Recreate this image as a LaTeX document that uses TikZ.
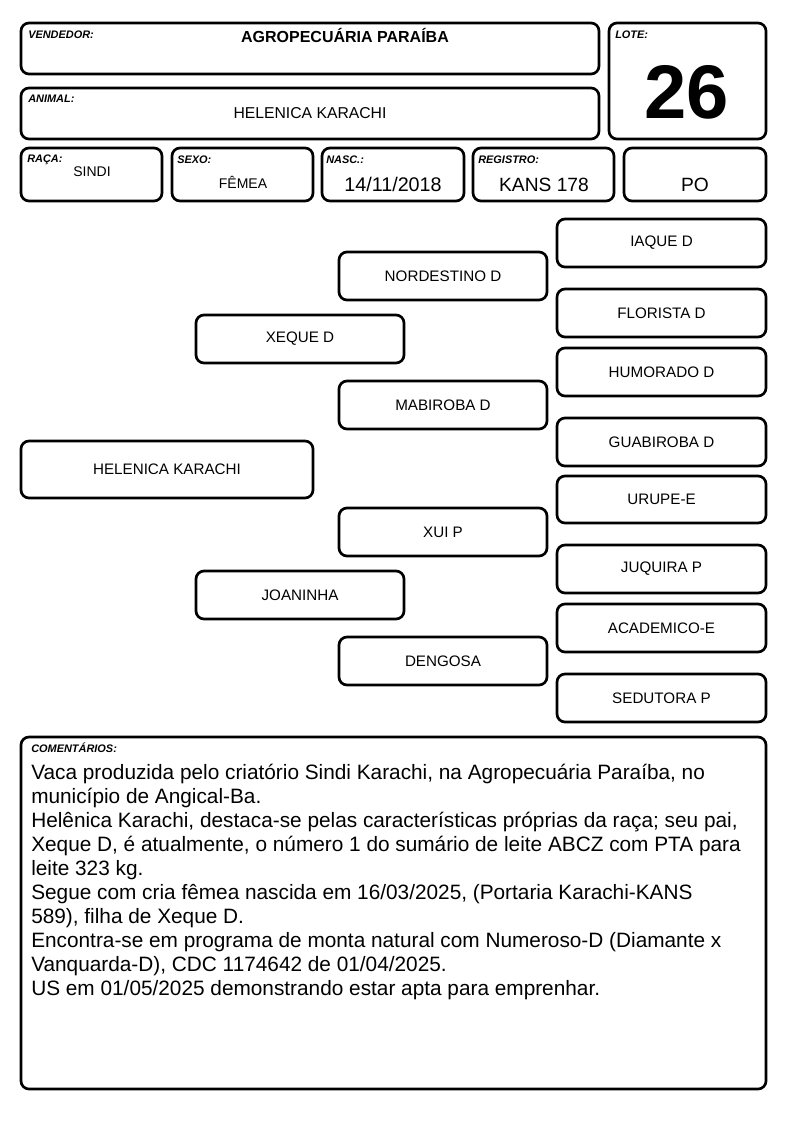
\documentclass[tikz,border=0pt]{standalone}
\usepackage{fontspec}
\setmainfont{Liberation Sans}
\begin{document}
\begin{tikzpicture}[x=0.75pt,y=-0.75pt,
  box/.style 2 args={draw, line width=2pt, rounded corners=6pt, inner sep=0pt,
    minimum width=#1*0.75pt, minimum height=#2*0.75pt, align=center},
  lbl/.style={anchor=north west, inner sep=0pt, font=\fontsize{8.2}{9}\selectfont\bfseries\itshape},
  nm/.style={font=\fontsize{11.4}{13}\selectfont},
  val/.style={inner sep=0pt, anchor=base},
]
\useasboundingbox (0,0) rectangle (794,1123);

% header boxes
\node[box={578}{51}] (vend) at (310,48.5) {};
\node[lbl] (vendl) at (28,31) {VENDEDOR:};
\node[val, font=\fontsize{12}{13}\selectfont\bfseries] (vendv) at (345,43) {AGROPECUÁRIA PARAÍBA};

\node[box={578}{51}] (anim) at (310,113.5) {};
\node[lbl] (animl) at (28,95) {ANIMAL:};
\node[val, font=\fontsize{11.8}{13}\selectfont] (animv) at (310,118.5) {HELENICA KARACHI};

\node[box={157}{116}] (lote) at (687.5,81) {};
\node[lbl] (lotel) at (615,31) {LOTE:};
\node[val, font=\fontsize{57}{60}\selectfont\bfseries] (lotev) at (687,119) {26};

\node[box={141}{53}] (raca) at (91.5,174.5) {};
\node[lbl] (racal) at (27,155) {RAÇA:};
\node[val, font=\fontsize{10.5}{12}\selectfont] (racav) at (92,177) {SINDI};

\node[box={141}{53}] (sexo) at (242.5,174.5) {};
\node[lbl] (sexol) at (177,156) {SEXO:};
\node[val, font=\fontsize{10.5}{12}\selectfont] (sexov) at (243,189) {FÊMEA};

\node[box={142}{53}] (nasc) at (393,174.5) {};
\node[lbl] (nascl) at (326,156) {NASC.:};
\node[val, font=\fontsize{14.8}{16}\selectfont] (nascv) at (393,192) {14/11/2018};

\node[box={141}{53}] (reg) at (543.5,174.5) {};
\node[lbl] (regl) at (478,156) {REGISTRO:};
\node[val, font=\fontsize{14.4}{16}\selectfont] (regv) at (544,192) {KANS 178};

\node[box={142}{53}] (po) at (695,174.5) {};
\node[val, font=\fontsize{14.4}{16}\selectfont] (pov) at (695,192) {PO};

% pedigree
\node[box={292}{57}, nm] (animal) at (167,469.5) {HELENICA KARACHI};
\node[box={208}{48}, nm] (pai) at (300,339) {XEQUE D};
\node[box={208}{48}, nm] (mae) at (300,595) {JOANINHA};
\node[box={208}{48}, nm] (avp) at (443,276) {NORDESTINO D};
\node[box={208}{48}, nm] (avop) at (443,405) {MABIROBA D};
\node[box={208}{48}, nm] (avm) at (443,532) {XUI P};
\node[box={208}{48}, nm] (avom) at (443,661) {DENGOSA};
\node[box={209}{48}, nm] (b1) at (661.5,243) {IAQUE D};
\node[box={209}{48}, nm] (b2) at (661.5,313) {FLORISTA D};
\node[box={209}{48}, nm] (b3) at (661.5,372) {HUMORADO D};
\node[box={209}{48}, nm] (b4) at (661.5,442) {GUABIROBA D};
\node[box={209}{47}, nm] (b5) at (661.5,499.5) {URUPE-E};
\node[box={209}{48}, nm] (b6) at (661.5,569) {JUQUIRA P};
\node[box={209}{48}, nm] (b7) at (661.5,628) {ACADEMICO-E};
\node[box={209}{48}, nm] (b8) at (661.5,698) {SEDUTORA P};

% comments
\node[box={745}{352}] (com) at (393.5,913) {};
\node[lbl] (coml) at (31,743) {COMENTÁRIOS:};
\node[anchor=north west, inner sep=0pt, align=left, font=\fontsize{15.6}{18}\selectfont] (comv) at (31,764)
{Vaca produzida pelo criatório Sindi Karachi, na Agropecuária Paraíba, no\\
município de Angical-Ba.\\
Helênica Karachi, destaca-se pelas características próprias da raça; seu pai,\\
Xeque D, é atualmente, o número 1 do sumário de leite ABCZ com PTA para\\
leite 323 kg.\\
Segue com cria fêmea nascida em 16/03/2025, (Portaria Karachi-KANS\\
589), filha de Xeque D.\\
Encontra-se em programa de monta natural com Numeroso-D (Diamante x\\
Vanquarda-D), CDC 1174642 de 01/04/2025.\\
US em 01/05/2025 demonstrando estar apta para emprenhar.};
\end{tikzpicture}
\end{document}
